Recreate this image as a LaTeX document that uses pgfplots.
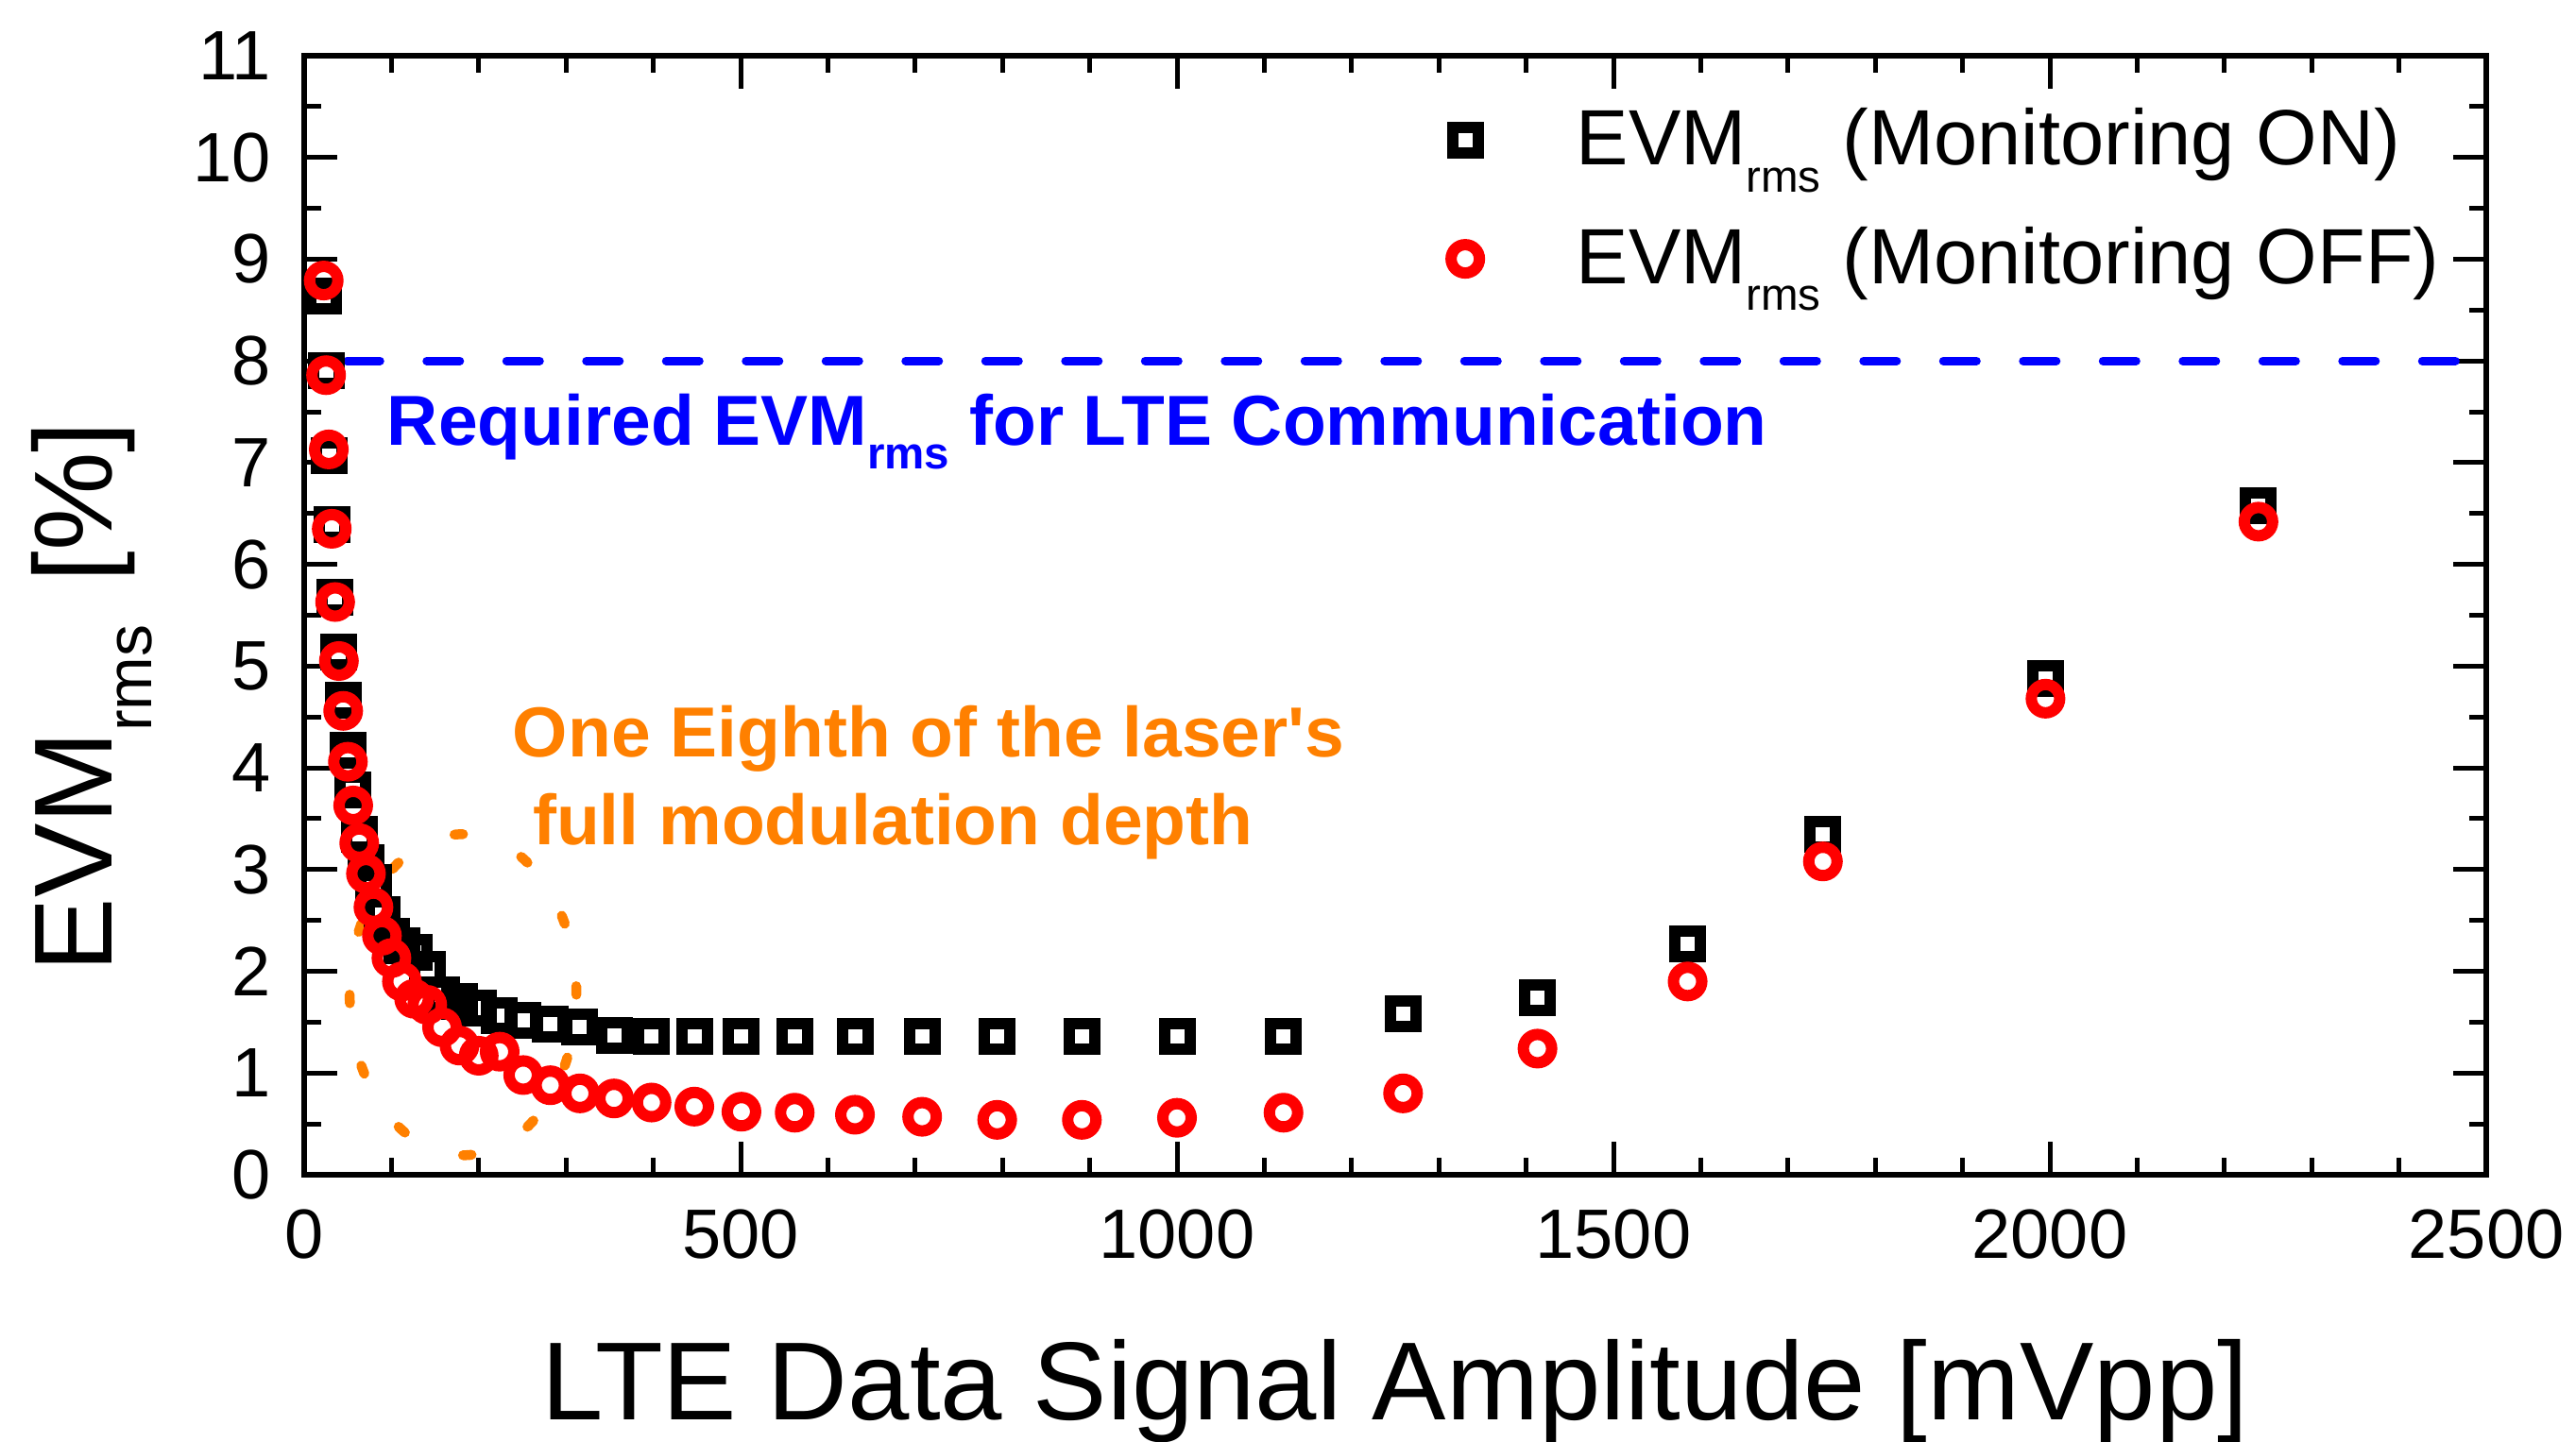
\documentclass[border=0pt]{standalone}
\usepackage{fontspec}
\setmainfont{Liberation Sans}
\usepackage{pgfplots}
\pgfplotsset{compat=1.18}
\definecolor{myorange}{RGB}{255,128,0}
\newcommand{\subrms}[2]{\raisebox{-#2}{\fontsize{#1}{#1}\selectfont rms}}

\begin{document}
\begin{tikzpicture}
\begin{axis}[
  scale only axis, width=462pt, height=237pt,
  xmin=0, xmax=2500, ymin=0, ymax=11,
  xtick={0,500,...,2500}, ytick={0,1,...,11},
  minor x tick num=4, minor y tick num=1,
  tick align=inside,
  major tick length=7pt, minor tick length=3.6pt,
  every tick/.style={black, line width=1pt},
  axis line style={line width=1.2pt},
  tick label style={font=\fontsize{14.8}{14.8}\selectfont},
  /pgf/number format/assume math mode=true,
  /pgf/number format/1000 sep={},
  scaled x ticks=false,
  xticklabel style={yshift=-3.8pt},
  yticklabel style={xshift=-3.5pt},
  xlabel={LTE Data Signal Amplitude [mVpp]},
  ylabel={EVM\subrms{13.6pt}{8.4pt}\hspace{9pt}[\%]},
  xlabel style={font=\fontsize{23.5}{23.5}\selectfont, at={(axis description cs:0.5,-0.2186)}, anchor=base},
  ylabel style={font=\fontsize{23.5}{23.5}\selectfont, at={(axis description cs:-0.0879,0.427)}, anchor=base},
  legend style={draw=none, fill=none, inner sep=0pt, outer sep=0pt,
    at={(axis cs:1314,10.53)}, anchor=north west,
    font=\fontsize{16.6}{16.6}\selectfont, row sep=9.6pt,
    nodes={inner sep=1pt},
    /tikz/every odd column/.append style={column sep=19.5pt}},
  legend cell align=left,
  legend image code/.code={\draw[#1, only marks] plot coordinates {(0pt,0pt)};},
]
\addplot[only marks, mark=square, mark size=2.7pt, black, mark options={solid, line width=2.4pt}] coordinates {
(22.4,8.64) (25.1,7.90) (28.2,7.07) (31.6,6.39) (35.5,5.68) (39.8,5.14) (44.7,4.66) (50.1,4.17)
(56.2,3.78) (63.1,3.35) (70.8,3.07) (79.4,2.87) (89.1,2.56) (100,2.34) (112,2.25) (126,2.19)
(141,2.02) (158,1.77) (178,1.70) (200,1.64) (224,1.56) (251,1.52) (282,1.48) (316,1.45)
(355,1.37) (398,1.36) (447,1.36) (501,1.36) (562,1.36) (631,1.36) (708,1.36) (794,1.36)
(891,1.36) (1000,1.36) (1122,1.36) (1259,1.58) (1413,1.74) (1585,2.27) (1740,3.35) (1995,4.88) (2239,6.58)
};
\addlegendentry{EVM\subrms{9.5pt}{5.7pt} (Monitoring ON)}
\addplot[only marks, mark=o, mark size=3pt, red, mark options={solid, line width=2.4pt}] coordinates {
(22.4,8.79) (25.1,7.86) (28.2,7.13) (31.6,6.35) (35.5,5.63) (39.8,5.05) (44.7,4.56) (50.1,4.06)
(56.2,3.63) (63.1,3.26) (70.8,2.96) (79.4,2.63) (89.1,2.35) (100,2.13) (112,1.90) (126,1.73)
(141,1.67) (158,1.45) (178,1.27) (200,1.17) (224,1.21) (251,0.98) (282,0.88) (316,0.80)
(355,0.75) (398,0.71) (447,0.67) (501,0.62) (562,0.61) (631,0.59) (708,0.57) (794,0.54)
(891,0.54) (1000,0.56) (1122,0.61) (1259,0.80) (1413,1.24) (1585,1.90) (1740,3.08) (1995,4.68) (2239,6.42)
};
\addlegendentry{EVM\subrms{9.5pt}{5.7pt} (Monitoring OFF)}
\addplot[forget plot, blue, line width=1.8pt, line cap=round, dash pattern=on 7pt off 9.9pt] coordinates {(49,8) (2500,8)};
\draw[myorange, line width=2.1pt, line cap=round, dash pattern=on 1.8pt off 13.5pt] (axis cs:182,1.77) ellipse [x radius=24pt, y radius=34pt];
\node[anchor=base west, text=blue, font=\bfseries\fontsize{15}{15}\selectfont, inner sep=0pt] at (axis cs:94,7.17) {Required EVM\subrms{9.5pt}{4.9pt} for LTE Communication};
\node[anchor=base west, text=myorange, font=\bfseries\fontsize{15}{15}\selectfont, inner sep=0pt] at (axis cs:238,4.11) {One Eighth of the laser\textquotesingle s};
\node[anchor=base west, text=myorange, font=\bfseries\fontsize{15}{15}\selectfont, inner sep=0pt] at (axis cs:261,3.24) {full modulation depth};
\coordinate (bbsw) at (rel axis cs:0,0);
\coordinate (bbne) at (rel axis cs:1,1);
\end{axis}
\pgfresetboundingbox
\path[use as bounding box] ([shift={(-64.4pt,-56.4pt)}]bbsw) rectangle ([shift={(19pt,11.8pt)}]bbne);
\end{tikzpicture}
\end{document}
